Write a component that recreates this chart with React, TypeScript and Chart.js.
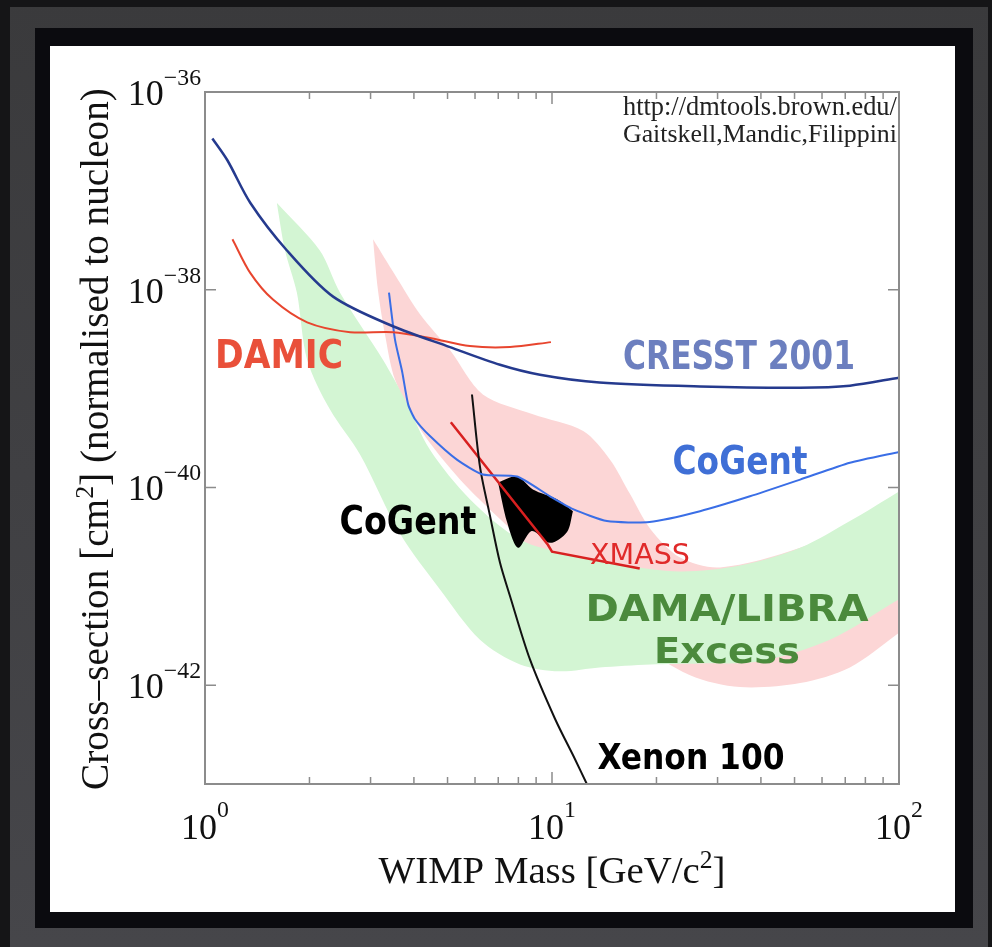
import { useEffect, useRef } from "react";
import { Chart, registerables } from "chart.js";

Chart.register(...registerables);

// ---------- DATA (WIMP mass in GeV/c^2, cross-section in cm^2) ----------
const cresstMass = [1.05, 1.16, 1.35, 1.72, 2.34, 3.48, 5.08, 7.08, 9.23, 13.7, 26.7, 51.8, 72.2, 100];
const cresstSigma = [3.39e-37, 2.04e-37, 7.59e-38, 2.51e-38, 8.51e-39, 4.27e-39, 2.63e-39, 1.74e-39, 1.38e-39, 1.15e-39, 1.05e-39, 1.02e-39, 1.07e-39, 1.29e-39];

const damicMass = [1.2, 1.35, 1.57, 1.97, 2.62, 3.48, 4.45, 5.8, 7.57, 9.93];
const damicSigma = [3.24e-38, 1.48e-38, 7.94e-39, 4.68e-39, 3.72e-39, 3.72e-39, 3.24e-39, 2.69e-39, 2.63e-39, 2.95e-39];

const cogentMass = [3.39, 3.53, 3.7, 3.85, 4.03, 4.45, 5.32, 6.32, 7.93, 9.87, 11.5, 14.4, 19.1, 26.7, 37.2, 51.9, 72.2, 100];
const cogentSigma = [9.33e-39, 3.09e-39, 1.48e-39, 6.92e-40, 4.9e-40, 3.31e-40, 1.91e-40, 1.35e-40, 1.29e-40, 8.13e-41, 6.03e-41, 4.57e-41, 4.47e-41, 5.75e-41, 8.13e-41, 1.2e-40, 1.78e-40, 2.29e-40];

const xmassMass = [5.11, 9.73, 10.0, 17.9];
const xmassSigma = [4.57e-40, 2.63e-41, 2.24e-41, 1.51e-41];

const xenonMass = [5.88, 6.2, 6.63, 7.08, 7.57, 8.64, 10.2, 11.65, 12.6];
const xenonSigma = [8.71e-40, 1.62e-40, 5.13e-41, 1.74e-41, 7.94e-42, 1.82e-42, 4.57e-43, 1.78e-43, 1.0e-43];

// CoGent signal region (black blob), upper and lower edges
const cogentRegUpperMass = [6.99, 7.93, 8.81, 10.34, 11.49];
const cogentRegUpperSigma = [1.12e-40, 1.29e-40, 9.55e-41, 7.59e-41, 5.75e-41];
const cogentRegLowerMass = [6.99, 7.42, 7.98, 8.75, 9.87, 11.05, 11.49];
const cogentRegLowerSigma = [1.12e-40, 4.47e-41, 2.45e-41, 3.63e-41, 2.75e-41, 3.55e-41, 5.75e-41];

// Pink region
const pinkUpperMass = [3.05, 3.53, 4.17, 5.08, 6.32, 8.81, 12.3, 14.7, 16.8, 19.2, 23.4, 30.5, 51.9, 100];
const pinkUpperSigma = [3.24e-38, 1.41e-38, 5.62e-39, 2.45e-39, 8.71e-40, 5.5e-40, 3.72e-40, 1.91e-40, 8.51e-41, 3.8e-41, 1.95e-41, 1.55e-41, 2.45e-41, 6.76e-41];
const pinkLowerMass = [3.05, 3.15, 3.3, 3.53, 4.17, 5.43, 7.08, 10.5, 17.1, 25.0, 34.8, 51.9, 72.2, 100];
const pinkLowerSigma = [3.24e-38, 1.0e-38, 3.55e-39, 1.23e-39, 3.89e-40, 1.2e-40, 4.79e-41, 1.32e-41, 2.88e-42, 1.26e-42, 9.55e-43, 1.05e-42, 1.51e-42, 3.39e-42];

// DAMA/LIBRA excess region (green)
const greenUpperMass = [1.61, 2.14, 2.45, 3.26, 3.77, 4.45, 5.8, 8.09, 11.3, 15.7, 23.4, 34.8, 51.9, 72.2, 100];
const greenUpperSigma = [7.59e-38, 2.51e-38, 9.33e-39, 1.95e-39, 7.76e-40, 2.4e-40, 7.59e-41, 2.95e-41, 2.09e-41, 1.66e-41, 1.41e-41, 1.62e-41, 2.45e-41, 4.57e-41, 9.12e-41];
const greenLowerMass = [1.61, 1.7, 1.84, 1.97, 2.29, 2.8, 3.65, 4.75, 6.2, 8.09, 10.5, 13.7, 19.2, 26.7, 39.7, 63.2, 100];
const greenLowerSigma = [7.59e-38, 2.51e-38, 9.33e-39, 1.95e-39, 6.17e-40, 2.14e-40, 3.39e-41, 9.33e-42, 2.88e-42, 1.62e-42, 1.38e-42, 1.51e-42, 1.62e-42, 1.66e-42, 1.74e-42, 2.88e-42, 7.41e-42];

// Ticks
const xTickValues = [1, 10, 100];
const xTickExponents = ["0", "1", "2"];
const xMinorTickValues = [2, 3, 4, 5, 6, 7, 8, 9, 20, 30, 40, 50, 60, 70, 80, 90];
const yTickValues = [1e-36, 1e-38, 1e-40, 1e-42];
const yTickExponents = ["\u221236", "\u221238", "\u221240", "\u221242"];

// Labels
const labelTexts = ["DAMIC", "CRESST 2001", "CoGent", "CoGent", "XMASS", "DAMA/LIBRA", "Excess", "Xenon 100"];
const creditLines = ["http://dmtools.brown.edu/", "Gaitskell,Mandic,Filippini"];

// ---------- STYLE / LAYOUT ----------
const SERIF = "'Liberation Serif', 'DejaVu Serif', serif";
const SANS = "'DejaVu Sans', 'Open Sans', sans-serif";
const CAP = 0.729;
const labelStyles = [
  { x: 279, y: 368, w: 128, h: 28, color: "#e9503a", weight: 700 },
  { x: 739, y: 369, w: 232, h: 28, color: "#6c7fbf", weight: 700 },
  { x: 740, y: 474, w: 135, h: 28, color: "#3f6fd6", weight: 700 },
  { x: 408, y: 534, w: 137, h: 28, color: "#000000", weight: 700 },
  { x: 640, y: 564, w: 100, h: 21, color: "#e02a2a", weight: 400 },
  { x: 727, y: 621, w: 283, h: 27, color: "#4b8a3c", weight: 700 },
  { x: 727, y: 663, w: 146, h: 26, color: "#4b8a3c", weight: 700 },
  { x: 691, y: 769, w: 187, h: 26, color: "#000000", weight: 700 },
];

function pts(xs: number[], ys: number[]) {
  return xs.map((x, i) => ({ x, y: ys[i] }));
}

type Part = { t: string; sup?: boolean };

function richWidth(ctx: CanvasRenderingContext2D, parts: Part[], size: number) {
  let total = 0;
  for (const p of parts) {
    ctx.font = `${p.sup ? size * 0.66 : size}px ${SERIF}`;
    total += ctx.measureText(p.t).width;
  }
  return total;
}

function drawRich(
  ctx: CanvasRenderingContext2D,
  parts: Part[],
  x: number,
  y: number,
  size: number,
  align: "left" | "center" | "right",
  raise: number
) {
  const total = richWidth(ctx, parts, size);
  let cx = align === "center" ? x - total / 2 : align === "right" ? x - total : x;
  ctx.textAlign = "left";
  ctx.textBaseline = "alphabetic";
  for (const p of parts) {
    ctx.font = `${p.sup ? size * 0.66 : size}px ${SERIF}`;
    ctx.fillText(p.t, cx, p.sup ? y - raise : y);
    cx += ctx.measureText(p.t).width;
  }
}

const framePlugin = {
  id: "frame",
  beforeDraw(chart: any) {
    const ctx: CanvasRenderingContext2D = chart.ctx;
    const W = chart.width;
    const H = chart.height;
    ctx.save();
    ctx.fillStyle = "#151517";
    ctx.fillRect(0, 0, W, H);
    const g = ctx.createLinearGradient(0, 0, 0, H);
    g.addColorStop(0, "#3a3a3c");
    g.addColorStop(1, "#46464a");
    ctx.fillStyle = g;
    ctx.fillRect(10, 7, 978, H - 7);
    ctx.fillStyle = "#0b0b0f";
    ctx.fillRect(35, 28, 938, 900);
    ctx.fillStyle = "#ffffff";
    ctx.fillRect(50, 46, 905, 866);
    ctx.restore();
  },
};

const overlayPlugin = {
  id: "overlay",
  afterDatasetsDraw(chart: any) {
    const ctx: CanvasRenderingContext2D = chart.ctx;
    const xs = chart.scales.x;
    const ys = chart.scales.y;
    const { left, right, top, bottom } = chart.chartArea;
    ctx.save();

    // credit text
    ctx.fillStyle = "#222222";
    ctx.textAlign = "left";
    ctx.textBaseline = "alphabetic";
    const creditBase = [115, 142];
    creditLines.forEach((t, i) => {
      ctx.font = `100px ${SERIF}`;
      const s = (100 * 274) / ctx.measureText(t).width;
      ctx.font = `${s}px ${SERIF}`;
      ctx.fillText(t, 623, creditBase[i]);
    });

    // axis box
    ctx.strokeStyle = "#8c8c8c";
    ctx.lineWidth = 2;
    ctx.strokeRect(left, top, right - left, bottom - top);

    // ticks (inward)
    ctx.lineWidth = 1.5;
    ctx.beginPath();
    for (const v of xTickValues) {
      const px = xs.getPixelForValue(v);
      ctx.moveTo(px, bottom); ctx.lineTo(px, bottom - 12);
      ctx.moveTo(px, top); ctx.lineTo(px, top + 12);
    }
    for (const v of xMinorTickValues) {
      const px = xs.getPixelForValue(v);
      ctx.moveTo(px, bottom); ctx.lineTo(px, bottom - 7);
      ctx.moveTo(px, top); ctx.lineTo(px, top + 7);
    }
    for (const v of yTickValues) {
      const py = ys.getPixelForValue(v);
      ctx.moveTo(left, py); ctx.lineTo(left + 11, py);
      ctx.moveTo(right, py); ctx.lineTo(right - 11, py);
    }
    ctx.stroke();

    // tick labels
    ctx.fillStyle = "#111111";
    xTickValues.forEach((v, i) => {
      const px = xs.getPixelForValue(v);
      drawRich(ctx, [{ t: "10" }, { t: xTickExponents[i], sup: true }], px, 839, 36, "center", 22);
    });
    yTickValues.forEach((v, i) => {
      const py = ys.getPixelForValue(v);
      drawRich(ctx, [{ t: "10" }, { t: yTickExponents[i], sup: true }], 201, py + 13, 36, "right", 20);
    });

    // axis titles
    const xTitle: Part[] = [{ t: "WIMP Mass [GeV/c" }, { t: "2", sup: true }, { t: "]" }];
    const xs100 = richWidth(ctx, xTitle, 100);
    drawRich(ctx, xTitle, (left + right) / 2, 883, (100 * 347) / xs100, "center", 15);

    const yTitle: Part[] = [{ t: "Cross\u2013section [cm" }, { t: "2", sup: true }, { t: "] (normalised to nucleon)" }];
    const ys100 = richWidth(ctx, yTitle, 100);
    ctx.save();
    ctx.translate(108, 439);
    ctx.rotate(-Math.PI / 2);
    drawRich(ctx, yTitle, 0, 0, (100 * 702) / ys100, "center", 15);
    ctx.restore();

    // annotation labels: size from cap height, horizontal scale to match width
    labelTexts.forEach((t, i) => {
      const st = labelStyles[i];
      const size = st.h / CAP;
      ctx.font = `${st.weight} ${size}px ${SANS}`;
      const sx = st.w / ctx.measureText(t).width;
      ctx.save();
      ctx.translate(st.x, st.y);
      ctx.scale(sx, 1);
      ctx.fillStyle = st.color;
      ctx.textAlign = "center";
      ctx.textBaseline = "alphabetic";
      ctx.fillText(t, 0, 0);
      ctx.restore();
    });

    ctx.restore();
  },
};

export default function App() {
  const ref = useRef<HTMLCanvasElement | null>(null);

  useEffect(() => {
    document.body.style.margin = "0";
    const canvas = ref.current;
    if (!canvas) return;

    const edge = (xs: number[], ys: number[], order: number, fill: any, color: string) => ({
      data: pts(xs, ys),
      showLine: true,
      borderWidth: 0,
      borderColor: "rgba(0,0,0,0)",
      backgroundColor: color,
      pointRadius: 0,
      tension: 0.3,
      fill,
      order,
    });
    const line = (xs: number[], ys: number[], color: string, width: number, tension: number) => ({
      data: pts(xs, ys),
      showLine: true,
      borderColor: color,
      borderWidth: width,
      pointRadius: 0,
      tension,
      fill: false,
      order: 1,
    });

    const chart = new Chart(canvas, {
      type: "scatter",
      data: {
        datasets: [
          edge(pinkUpperMass, pinkUpperSigma, 30, "+1", "#fcd6d6"),
          edge(pinkLowerMass, pinkLowerSigma, 31, false, "#fcd6d6"),
          edge(greenUpperMass, greenUpperSigma, 20, "+1", "#d3f5d3"),
          edge(greenLowerMass, greenLowerSigma, 21, false, "#d3f5d3"),
          line(cresstMass, cresstSigma, "#253a8e", 2.5, 0.3),
          line(damicMass, damicSigma, "#e8452e", 2, 0.3),
          line(cogentMass, cogentSigma, "#3a6ee6", 2, 0.2),
          edge(cogentRegUpperMass, cogentRegUpperSigma, 5, "+1", "#000000"),
          edge(cogentRegLowerMass, cogentRegLowerSigma, 6, false, "#000000"),
          line(xenonMass, xenonSigma, "#111111", 2, 0.3),
          line(xmassMass, xmassSigma, "#d82020", 2.5, 0),
        ] as any,
      },
      options: {
        responsive: false,
        animation: false,
        devicePixelRatio: 1,
        layout: { padding: { left: 205, top: 92, right: 93, bottom: 163 } },
        scales: {
          x: { type: "logarithmic", min: 1, max: 100, display: false },
          y: { type: "logarithmic", min: 1e-43, max: 1e-36, display: false },
        },
        plugins: {
          legend: { display: false },
          tooltip: { enabled: false },
        },
      } as any,
      plugins: [framePlugin, overlayPlugin],
    });
    return () => chart.destroy();
  }, []);

  return <canvas ref={ref} width={992} height={947} style={{ display: "block" }} />;
}
